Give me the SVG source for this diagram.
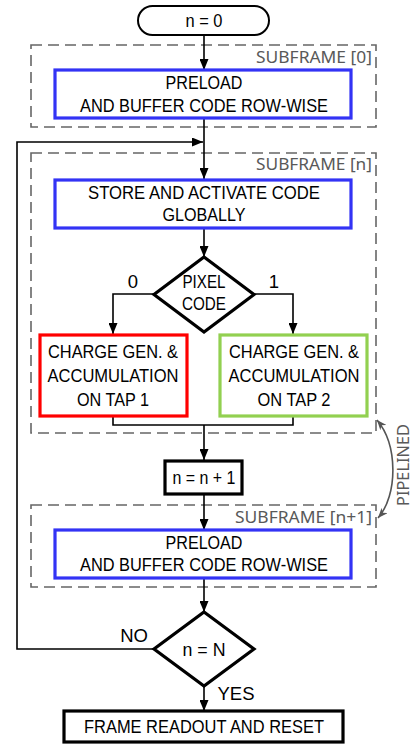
<svg xmlns="http://www.w3.org/2000/svg" width="413" height="744" viewBox="0 0 413 744">
<defs>
<marker id="ah" markerUnits="userSpaceOnUse" markerWidth="11" markerHeight="9" refX="11" refY="4.5" orient="auto"><path d="M0,0 L11,4.5 L0,9 z" fill="#000"/></marker>
<marker id="ag" markerUnits="userSpaceOnUse" markerWidth="10" markerHeight="8" refX="10" refY="4" orient="auto-start-reverse"><path d="M0,0 L10,4 L0,8 L3,4 z" fill="#555"/></marker>
</defs>
<style>
.t{font-family:"Liberation Sans",Arial,sans-serif;font-size:18.5px;fill:#000;text-anchor:middle}
.g{font-family:"Noto Sans","Open Sans",sans-serif;font-size:16.5px;fill:#595959;text-anchor:end}
.sub{fill:none;stroke:#666;stroke-width:1.6;stroke-dasharray:11,6}
.blue{fill:#fff;stroke:#3333f5;stroke-width:3.2}
.k{fill:#fff;stroke:#000;stroke-width:3.2}
.c{fill:none;stroke:#000;stroke-width:1.6}
</style>
<g id="subframes">
<rect class="sub" x="31" y="45" width="345" height="82"/>
<text class="g" x="372" y="63" textLength="116" lengthAdjust="spacingAndGlyphs">SUBFRAME [0]</text>
<rect class="sub" x="31" y="153" width="345" height="280"/>
<text class="g" x="372" y="170" textLength="116" lengthAdjust="spacingAndGlyphs">SUBFRAME [n]</text>
<rect class="sub" x="31" y="505" width="345" height="82"/>
<text class="g" x="372" y="523" textLength="137" lengthAdjust="spacingAndGlyphs">SUBFRAME [n+1]</text>
</g>
<g id="connectors">
<path class="c" d="M204,35 V70" marker-end="url(#ah)"/>
<path class="c" d="M204,118 V179" marker-end="url(#ah)"/>
<path class="c" d="M154,649 H17 V142 H203" marker-end="url(#ah)"/>
<path class="c" d="M204,228 V257" marker-end="url(#ah)"/>
<path class="c" d="M154,294 H113 V334" marker-end="url(#ah)"/>
<path class="c" d="M254,294 H293 V334" marker-end="url(#ah)"/>
<path class="c" d="M113,416 V425 H293 V416"/>
<path class="c" d="M204,425 V460" marker-end="url(#ah)"/>
<path class="c" d="M204,494 V530" marker-end="url(#ah)"/>
<path class="c" d="M204,578 V612" marker-end="url(#ah)"/>
<path class="c" d="M204,686 V711" marker-end="url(#ah)"/>
<path d="M377,420 C398,445 398,495 378,518" fill="none" stroke="#555" stroke-width="1.6" marker-start="url(#ag)" marker-end="url(#ag)"/>
<text class="t" x="133" y="288" font-size="18">0</text>
<text class="t" x="274" y="288" font-size="18">1</text>
<text class="t" x="134" y="642">NO</text>
<text class="t" x="236" y="700">YES</text>
<text transform="rotate(-90 404 465)" font-family="Noto Sans,Open Sans,sans-serif" font-size="16" fill="#595959" text-anchor="middle" textLength="82" lengthAdjust="spacingAndGlyphs" x="404" y="470">PIPELINED</text>
</g>
<g id="start">
<rect x="138" y="6" width="131" height="29" rx="14.5" fill="#fff" stroke="#000" stroke-width="2"/>
<text class="t" x="204" y="27" textLength="37" lengthAdjust="spacingAndGlyphs">n = 0</text>
</g>
<g id="preload0">
<rect class="blue" x="55" y="70" width="296" height="48"/>
<text class="t" x="204" y="89" textLength="77" lengthAdjust="spacingAndGlyphs">PRELOAD</text>
<text class="t" x="204" y="112" textLength="248" lengthAdjust="spacingAndGlyphs">AND BUFFER CODE ROW-WISE</text>
</g>
<g id="store">
<rect class="blue" x="55" y="180" width="296" height="48"/>
<text class="t" x="204" y="199" textLength="232" lengthAdjust="spacingAndGlyphs">STORE AND ACTIVATE CODE</text>
<text class="t" x="204" y="221" textLength="83" lengthAdjust="spacingAndGlyphs">GLOBALLY</text>
</g>
<g id="pixelcode">
<polygon class="k" points="204,257 254,294.5 204,332 154,294.5"/>
<text class="t" x="204" y="288" font-size="17" textLength="43" lengthAdjust="spacingAndGlyphs">PIXEL</text>
<text class="t" x="204" y="310" font-size="17" textLength="44" lengthAdjust="spacingAndGlyphs">CODE</text>
</g>
<g id="tap1">
<rect x="40" y="335" width="147" height="81" fill="#fff" stroke="#ff0000" stroke-width="3.2"/>
<text class="t" x="113" y="358" textLength="130" lengthAdjust="spacingAndGlyphs">CHARGE GEN. &amp;</text>
<text class="t" x="113" y="382" textLength="131" lengthAdjust="spacingAndGlyphs">ACCUMULATION</text>
<text class="t" x="113" y="406" textLength="72" lengthAdjust="spacingAndGlyphs">ON TAP 1</text>
</g>
<g id="tap2">
<rect x="220" y="335" width="147" height="81" fill="#fff" stroke="#92d050" stroke-width="3.2"/>
<text class="t" x="294" y="358" textLength="130" lengthAdjust="spacingAndGlyphs">CHARGE GEN. &amp;</text>
<text class="t" x="294" y="382" textLength="131" lengthAdjust="spacingAndGlyphs">ACCUMULATION</text>
<text class="t" x="294" y="406" textLength="73" lengthAdjust="spacingAndGlyphs">ON TAP 2</text>
</g>
<g id="increment">
<rect class="k" x="165" y="461" width="77" height="33"/>
<text class="t" x="204" y="484" textLength="63" lengthAdjust="spacingAndGlyphs">n = n + 1</text>
</g>
<g id="preload1">
<rect class="blue" x="55" y="530" width="296" height="48"/>
<text class="t" x="204" y="549" textLength="77" lengthAdjust="spacingAndGlyphs">PRELOAD</text>
<text class="t" x="204" y="571" textLength="248" lengthAdjust="spacingAndGlyphs">AND BUFFER CODE ROW-WISE</text>
</g>
<g id="check">
<polygon class="k" points="204,612 254,649 204,686 154,649"/>
<text class="t" x="204" y="656" textLength="43" lengthAdjust="spacingAndGlyphs">n = N</text>
</g>
<g id="readout">
<rect class="k" x="64" y="711" width="279" height="31"/>
<text class="t" x="204" y="733" textLength="240" lengthAdjust="spacingAndGlyphs">FRAME READOUT AND RESET</text>
</g>
</svg>
